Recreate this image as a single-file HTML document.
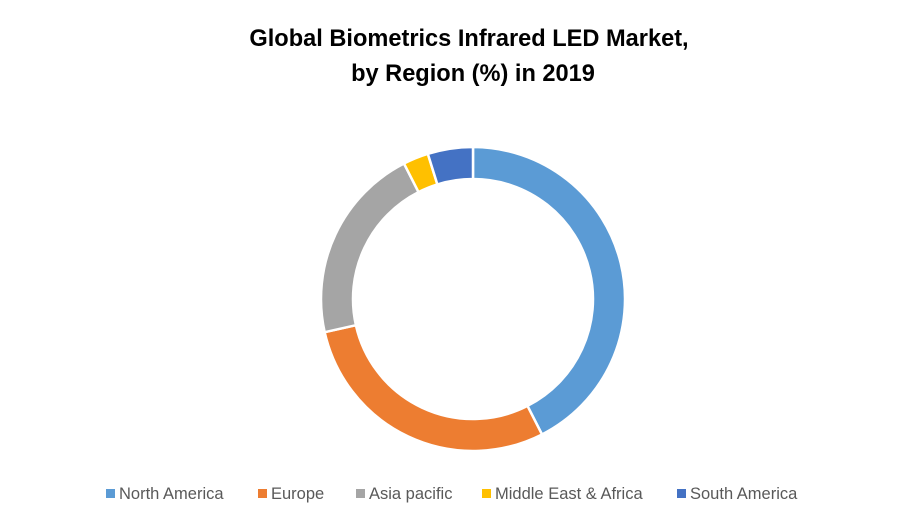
<!DOCTYPE html>
<html><head><meta charset="utf-8"><style>
body{margin:0;background:#fff;width:900px;height:525px;overflow:hidden;font-family:"Liberation Sans",sans-serif}
</style></head><body>
<svg width="900" height="525">
<text x="469" y="46" text-anchor="middle" font-size="23.6" font-weight="bold" fill="#000">Global Biometrics Infrared LED Market,</text>
<text x="473" y="81" text-anchor="middle" font-size="23.6" font-weight="bold" fill="#000">by Region (%) in 2019</text>
<g id="donut"></g>
<g id="legend"></g>
</svg>
<script>
const categories=["North America","Europe","Asia pacific","Middle East & Africa","South America"];
const values=[42.5,29,21,2.7,4.8];
const colors=["#5b9bd5","#ed7d31","#a5a5a5","#ffc000","#4472c4"];
const cx=473,cy=299,R=152,r=120;
const ns="http://www.w3.org/2000/svg";
const g=document.getElementById("donut");
const total=values.reduce((a,b)=>a+b,0);
let a0=0;
function pt(rad,ang){return [cx+rad*Math.sin(ang),cy-rad*Math.cos(ang)];}
values.forEach((v,i)=>{
  const a1=a0+v/total*2*Math.PI;
  const large=(a1-a0)>Math.PI?1:0;
  const p1=pt(R,a0),p2=pt(R,a1),p3=pt(r,a1),p4=pt(r,a0);
  const path=document.createElementNS(ns,"path");
  path.setAttribute("d",`M${p1}A${R},${R} 0 ${large} 1 ${p2}L${p3}A${r},${r} 0 ${large} 0 ${p4}Z`);
  path.setAttribute("fill",colors[i]);
  path.setAttribute("stroke","#fff");
  path.setAttribute("stroke-width","2.5");
  
  
  g.appendChild(path);
  a0=a1;
});
const lg=document.getElementById("legend");
const lx=[106,258,356,482,677];
categories.forEach((c,i)=>{
  const grp=document.createElementNS(ns,"g");
  
  
  const s=document.createElementNS(ns,"rect");
  s.setAttribute("x",lx[i]);s.setAttribute("y",489);s.setAttribute("width",9);s.setAttribute("height",9);
  s.setAttribute("fill",colors[i]);
  const t=document.createElementNS(ns,"text");
  t.setAttribute("x",lx[i]+13);t.setAttribute("y",499);t.setAttribute("font-size","16.5");t.setAttribute("fill","#595959");
  t.textContent=c;
  grp.appendChild(s);grp.appendChild(t);lg.appendChild(grp);
});
</script>
</body></html>
